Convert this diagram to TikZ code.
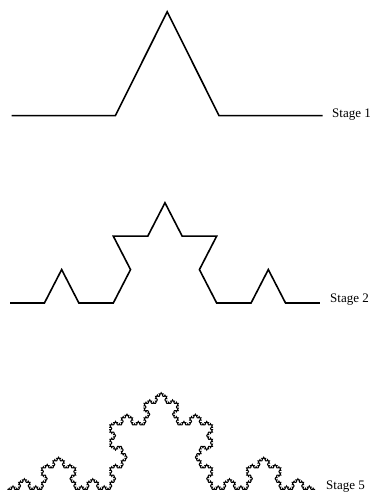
\documentclass[tikz,border=0pt]{standalone}
\usepackage{fontspec}
\setmainfont{Liberation Serif}
\usetikzlibrary{lindenmayersystems}
\pgfdeclarelindenmayersystem{Koch}{\rule{F -> F+F--F+F}}
\tikzset{
  curve/.style={black, line join=miter, line cap=butt},
  stagelabel/.style={anchor=base west, inner sep=0pt, font=\fontsize{13}{15}\selectfont}
}
\begin{document}
\begin{tikzpicture}[x=1pt,y=1pt]
\useasboundingbox (0,0) rectangle (371,499);
% Stage 1
\draw[curve, line width=1.6pt, shift={(11.7,383.3)}, yscale=1.158,
  l-system={Koch, axiom=F, order=1, step=103.67pt, angle=60}] lindenmayer system;
% Stage 2
\draw[curve, line width=1.6pt, shift={(10,196)}, yscale=1.12,
  l-system={Koch, axiom=F, order=2, step=34.44pt, angle=60}] lindenmayer system;
% Stage 5
\draw[curve, line width=1pt, shift={(7.3,9.5)}, yscale=1.09,
  l-system={Koch, axiom=F, order=5, step=1.2663pt, angle=60}] lindenmayer system;
\node[stagelabel] (s1) at (332,381) {Stage 1};
\node[stagelabel] (s2) at (330,196.5) {Stage 2};
\node[stagelabel] (s5) at (326,9.5) {Stage 5};
\end{tikzpicture}
\end{document}
